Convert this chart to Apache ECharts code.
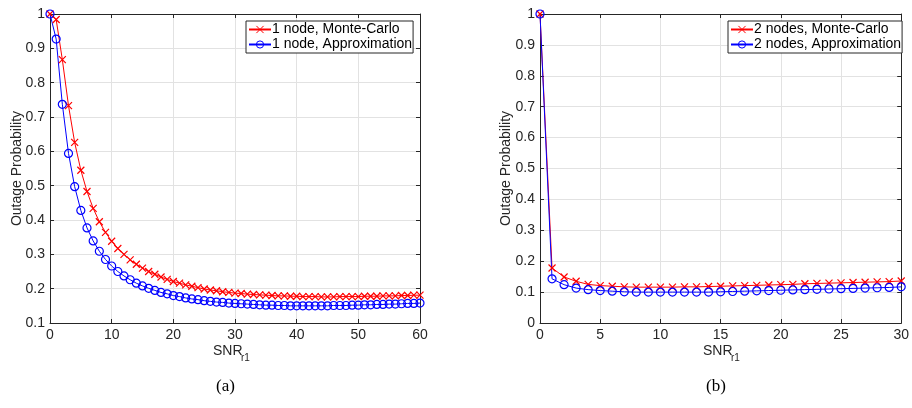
<!DOCTYPE html>
<html>
<head>
<meta charset="utf-8">
<script src="https://cdn.jsdelivr.net/npm/echarts@6/dist/echarts.min.js"></script>
<style>
html,body{margin:0;padding:0;background:#fff;}
#chart{width:912px;height:408px;}
</style>
</head>
<body>
<div id="chart"></div>
<script>
// ---- data ----
const snrA = [0,1,2,3,4,5,6,7,8,9,10,11,12,13,14,15,16,17,18,19,20,21,22,23,24,25,26,27,28,29,30,31,32,33,34,35,36,37,38,39,40,41,42,43,44,45,46,47,48,49,50,51,52,53,54,55,56,57,58,59,60];
const mc1 = [1.000,0.984,0.867,0.733,0.626,0.545,0.483,0.434,0.395,0.364,0.338,0.317,0.300,0.284,0.271,0.260,0.250,0.242,0.234,0.227,0.221,0.216,0.211,0.207,0.203,0.199,0.196,0.194,0.191,0.189,0.187,0.186,0.184,0.183,0.182,0.181,0.180,0.179,0.179,0.178,0.178,0.177,0.177,0.177,0.176,0.176,0.176,0.177,0.177,0.177,0.177,0.178,0.178,0.178,0.179,0.179,0.179,0.180,0.180,0.181,0.181];
const ap1 = [1.000,0.927,0.737,0.594,0.497,0.428,0.377,0.339,0.309,0.285,0.266,0.250,0.237,0.226,0.216,0.208,0.201,0.195,0.189,0.185,0.180,0.177,0.173,0.170,0.168,0.165,0.163,0.161,0.160,0.158,0.157,0.156,0.155,0.154,0.153,0.152,0.152,0.151,0.151,0.150,0.150,0.150,0.150,0.150,0.150,0.150,0.151,0.151,0.151,0.152,0.152,0.153,0.153,0.154,0.154,0.155,0.155,0.156,0.157,0.157,0.158];
const snrB = [0,1,2,3,4,5,6,7,8,9,10,11,12,13,14,15,16,17,18,19,20,21,22,23,24,25,26,27,28,29,30];
const mc2 = [1.000,0.178,0.149,0.135,0.125,0.121,0.119,0.117,0.116,0.116,0.116,0.116,0.117,0.117,0.118,0.119,0.120,0.121,0.122,0.123,0.124,0.125,0.127,0.128,0.129,0.130,0.131,0.132,0.133,0.134,0.136];
const ap2 = [1.000,0.143,0.124,0.113,0.108,0.105,0.103,0.101,0.100,0.100,0.100,0.100,0.100,0.100,0.100,0.101,0.102,0.103,0.104,0.105,0.106,0.107,0.108,0.109,0.110,0.111,0.112,0.113,0.114,0.115,0.117];
const xTicksA = [0,10,20,30,40,50,60];
const xTicksB = [0,5,10,15,20,25,30];
const namesA = ['1 node, Monte-Carlo','1 node, Approximation'];
const namesB = ['2 nodes, Monte-Carlo','2 nodes, Approximation'];
const yTitle = 'Outage Probability';
const captions = ['(a)','(b)'];

// ---- style ----
const AX = '#262626';
const GRIDC = '#e2e2e2';
const FONT = 'Liberation Sans, Arial, Helvetica, sans-serif';
const XSYM = 'path://M0,0L10,10M10,0L0,10';

function pair(xs, ys){ return xs.map((x,i)=>[x, ys[i]]); }

function mainX(gi, min, max, interval){
  return {
    gridIndex: gi, type:'value', min:min, max:max, interval:interval, position:'bottom',
    axisLine:{show:true, onZero:false, lineStyle:{color:AX, width:1}},
    axisTick:{show:true, inside:true, length:4, lineStyle:{color:AX}},
    axisLabel:{color:AX, fontSize:14, fontFamily:FONT, margin:5},
    splitLine:{show:true, lineStyle:{color:GRIDC, width:1}}
  };
}
function topX(gi, min, max, interval){
  return {
    gridIndex: gi, type:'value', min:min, max:max, interval:interval, position:'top',
    axisLine:{show:true, onZero:false, lineStyle:{color:AX, width:1}},
    axisTick:{show:true, inside:true, length:4, lineStyle:{color:AX}},
    axisLabel:{show:false}, splitLine:{show:false}
  };
}
function mainY(gi, min, max, gap){
  return {
    gridIndex: gi, type:'value', min:min, max:max, interval:0.1, position:'left',
    name: yTitle, nameLocation:'middle', nameGap:gap, nameRotate:90, nameMoveOverlap:false,
    nameTextStyle:{color:AX, fontSize:14, fontFamily:FONT},
    axisLine:{show:true, onZero:false, lineStyle:{color:AX, width:1}},
    axisTick:{show:true, inside:true, length:4, lineStyle:{color:AX}},
    axisLabel:{color:AX, fontSize:14, fontFamily:FONT, margin:5,
      formatter: v => String(+v.toFixed(1))},
    splitLine:{show:true, lineStyle:{color:GRIDC, width:1}}
  };
}
function rightY(gi, min, max){
  return {
    gridIndex: gi, type:'value', min:min, max:max, interval:0.1, position:'right',
    axisLine:{show:true, onZero:false, lineStyle:{color:AX, width:1}},
    axisTick:{show:true, inside:true, length:4, lineStyle:{color:AX}},
    axisLabel:{show:false}, splitLine:{show:false}
  };
}
function mcSeries(name, xi, yi, data){
  return {
    name:name, type:'line', xAxisIndex:xi, yAxisIndex:yi, data:data,
    symbol:XSYM, symbolSize:7, showAllSymbol:true, animation:false,
    lineStyle:{color:'#ff0000', width:1},
    itemStyle:{color:'#ff0000', borderColor:'#ff0000', borderWidth:1.2},
    emphasis:{disabled:true}
  };
}
function apSeries(name, xi, yi, data){
  return {
    name:name, type:'line', xAxisIndex:xi, yAxisIndex:yi, data:data,
    symbol:'circle', symbolSize:8, showAllSymbol:true, animation:false,
    lineStyle:{color:'#0000ff', width:1},
    itemStyle:{color:'rgba(255,255,255,0)', borderColor:'#0000ff', borderWidth:1.2},
    emphasis:{disabled:true}
  };
}
function legendAt(left, top, names){
  return {
    left:left, top:top, orient:'vertical', data:names,
    padding:[1,1,1,2], itemGap:0, itemWidth:22, itemHeight:9,
    borderColor:AX, borderWidth:1, backgroundColor:'#fff',
    textStyle:{color:'#000', fontSize:14, fontFamily:FONT, lineHeight:15, padding:[0,0,0,-4]},
    itemStyle:{borderWidth:1},
    selectedMode:false
  };
}

const chart = echarts.init(document.getElementById('chart'), null, {renderer:'canvas'});
chart.setOption({
  animation:false,
  backgroundColor:'#fff',
  grid:[
    {left:50, top:14, width:370, height:309},
    {left:540, top:14, width:370, height:309}
  ],
  xAxis:[
    mainX(0, xTicksA[0], xTicksA[xTicksA.length-1], xTicksA[1]-xTicksA[0]),
    topX(0, xTicksA[0], xTicksA[xTicksA.length-1], xTicksA[1]-xTicksA[0]),
    mainX(1, xTicksB[0], xTicksB[xTicksB.length-1], xTicksB[1]-xTicksB[0]),
    topX(1, xTicksB[0], xTicksB[xTicksB.length-1], xTicksB[1]-xTicksB[0])
  ],
  yAxis:[
    mainY(0, 0.1, 1, 26),
    rightY(0, 0.1, 1),
    mainY(1, 0, 1, 27),
    rightY(1, 0, 1)
  ],
  legend:[ legendAt(246, 21, namesA), legendAt(728, 21, namesB) ],
  series:[
    mcSeries(namesA[0], 0, 0, pair(snrA, mc1)),
    apSeries(namesA[1], 0, 0, pair(snrA, ap1)),
    mcSeries(namesB[0], 2, 2, pair(snrB, mc2)),
    apSeries(namesB[1], 2, 2, pair(snrB, ap2))
  ],
  graphic:[
    {type:'text', left:213, top:344, style:{text:'SNR', fill:AX, font:'14px '+FONT}},
    {type:'text', left:241, top:353, style:{text:'r1', fill:AX, font:'10px '+FONT}},
    {type:'text', left:703, top:344, style:{text:'SNR', fill:AX, font:'14px '+FONT}},
    {type:'text', left:731, top:353, style:{text:'r1', fill:AX, font:'10px '+FONT}},
    {type:'text', left:216, top:378, style:{text:captions[0], fill:'#000', font:'17px "Liberation Serif", "Times New Roman", serif'}},
    {type:'text', left:706, top:378, style:{text:captions[1], fill:'#000', font:'17px "Liberation Serif", "Times New Roman", serif'}}
  ]
});
</script>
</body>
</html>
